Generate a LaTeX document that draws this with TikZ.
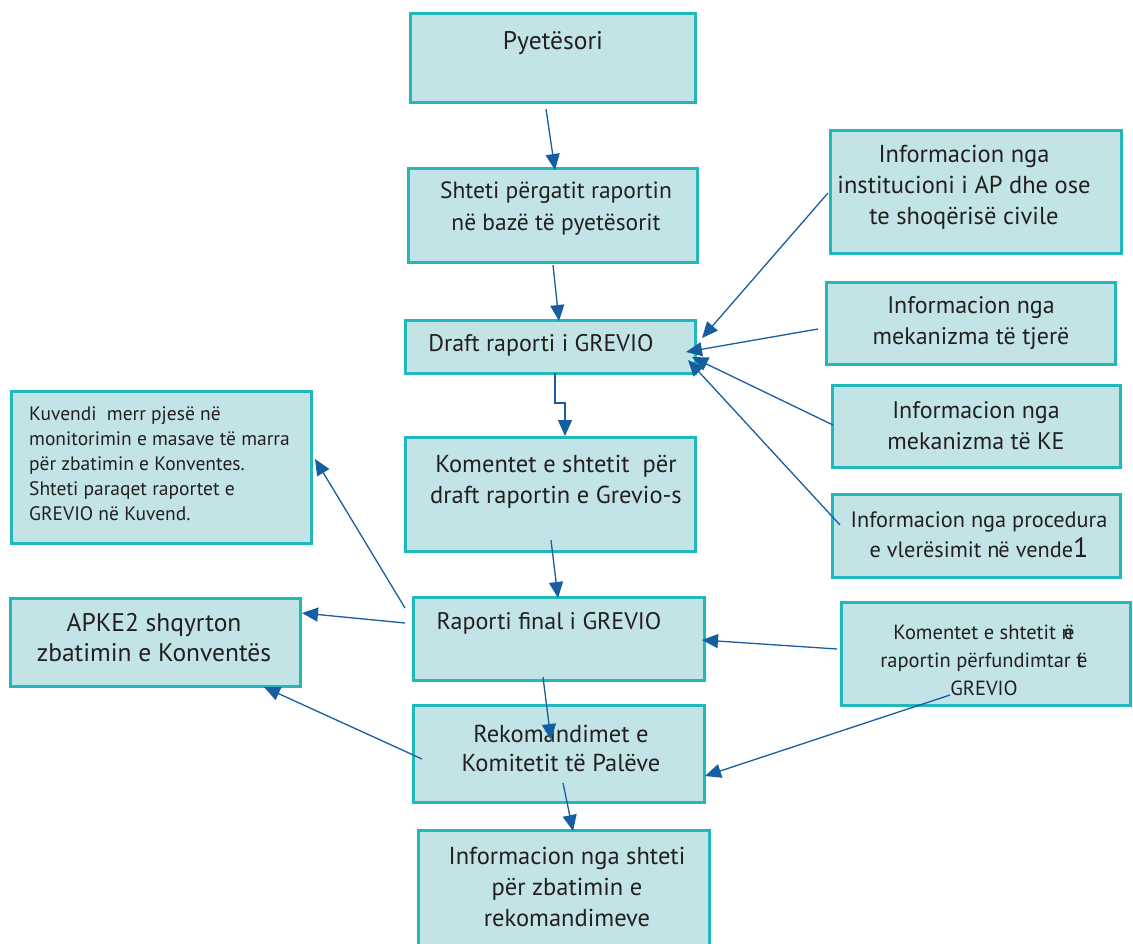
\documentclass[tikz,border=0pt]{standalone}
\usepackage{fontspec}
\setmainfont{PT Sans}
\usetikzlibrary{arrows.meta}
\definecolor{boxfill}{RGB}{195,228,231}
\definecolor{boxline}{RGB}{32,184,186}
\definecolor{arr}{RGB}{22,94,160}
\definecolor{txt}{RGB}{35,31,32}
\tikzset{
  box/.style={draw=boxline, fill=boxfill, line width=3pt, inner sep=0pt, rectangle},
  lbl/.style={text=txt, font=\fontsize{24.5}{31}\selectfont, align=center, inner sep=0pt},
  smalllbl/.style={text=txt, font=\fontsize{19.5}{25}\selectfont, inner sep=0pt},
  conn/.style={draw=arr, line width=1.3pt, -{Triangle[length=16pt,width=14pt]}},
}
\newcommand\mybox[5]{\node[box, minimum width={#4pt-#2pt}, minimum height={#5pt-#3pt}] (#1) at ({(#2+#4)/2},{(#3+#5)/2}) {};}
\begin{document}
\begin{tikzpicture}[x=1pt,y=-1pt]
\useasboundingbox (0,0) rectangle (1133,943);
% boxes
\mybox{pyet}{410}{13}{695}{102}
\mybox{shteti}{408}{168}{697}{262}
\mybox{inst}{830}{130}{1121}{253}
\mybox{draft}{405}{320}{695}{373}
\mybox{tjere}{826}{282}{1115}{364}
\mybox{ke}{832}{385}{1120}{467}
\mybox{proc}{832}{494}{1120}{577}
\mybox{kuv}{11}{391}{311}{543}
\mybox{koment}{405}{437}{695}{551}
\mybox{final}{413}{597}{704}{680}
\mybox{apke}{10}{598}{300}{686}
\mybox{kom2}{841}{602}{1130}{705}
\mybox{rek}{413}{705}{704}{802}
\mybox{infsh}{418}{830}{709}{948}
% texts
\node[lbl, font=\fontsize{25.5}{31}\selectfont] (pyet-t) at (553,43) {Pyetësori};
\node[lbl, font=\fontsize{23.5}{32}\selectfont] (shteti-t) at (556,209) {Shteti përgatit raportin\\në bazë të pyetësorit};
\node[lbl] (inst-t) at (964,187) {Informacion nga\\institucioni i AP dhe ose\\te shoqërisë civile};
\node[lbl, font=\fontsize{24}{31}\selectfont] (draft-t) at (541,345) {Draft raporti i GREVIO};
\node[lbl, font=\fontsize{24}{31}\selectfont] (tjere-t) at (971,323) {Informacion nga\\mekanizma të tjerë};
\node[lbl, font=\fontsize{24}{31}\selectfont] (ke-t) at (976,426) {Informacion nga\\mekanizma të KE};
\node[lbl, font=\fontsize{22.3}{30}\selectfont] (proc-t) at (979,535) {Informacion nga procedura\\e vlerësimit n\kern-0.05em ë vende{\fontsize{28}{30}\selectfont 1}};
\node[smalllbl, align=left, anchor=west] (kuv-t) at (29,464) {Kuvendi\ \ merr pjesë në\\monitorimin e masave të marra\\për zbatimin e Konventes.\\Shteti paraqet raportet e\\GREVIO në Kuvend.};
\node[lbl] (koment-t) at (556,482) {Komentet e shtetit\ \ për\\draft raportin e Grevio-s};
\node[lbl, font=\fontsize{24}{31}\selectfont] (final-t) at (549,623) {Raporti final i GREVIO};
\node[lbl, font=\fontsize{25.5}{30}\selectfont] (apke-t) at (154,638) {APKE2 shqyrton\\zbatimin e Konventës};
\node[smalllbl, align=center, font=\fontsize{20.5}{28}\selectfont] (kom2-t) at (984,660) {Komentet e shtetit n\kern-0.42em ë\\raportin përfundimtar t\kern-0.3em ë\\GREVIO};
\node[lbl, font=\fontsize{24.5}{29}\selectfont] (rek-t) at (561,748) {Rekomandimet e\\Komitetit të Palëve};
\node[lbl] (infsh-t) at (567,887) {Informacion nga shteti\\për zbatimin e\\rekomandimeve};
% connector end points
\coordinate (s1) at (546,109);  \coordinate (e1) at (555,170);
\coordinate (s2) at (553,265);  \coordinate (e2) at (559,321);
\coordinate (s3) at (555,373);  \coordinate (m3a) at (555,403); \coordinate (m3b) at (565,403); \coordinate (e3) at (565,436);
\coordinate (s4) at (551,540);  \coordinate (e4) at (558,598);
\coordinate (s5) at (543,677);  \coordinate (e5) at (551,740);
\coordinate (s6) at (563,783);  \coordinate (e6) at (573,831);
\coordinate (s7) at (405,608);  \coordinate (e7) at (315,459);
\coordinate (s8) at (405,623);  \coordinate (e8) at (302,613);
\coordinate (s9) at (422,759);  \coordinate (e9) at (264,687);
\coordinate (s10) at (828,193); \coordinate (e10) at (702,338);
\coordinate (s11) at (818,329); \coordinate (e11) at (686,352);
\coordinate (s12) at (833,425); \coordinate (e12) at (692,357);
\coordinate (s13) at (840,525); \coordinate (e13) at (688,360);
\coordinate (s14) at (837,649); \coordinate (e14) at (702,640);
\coordinate (s15) at (950,695); \coordinate (e15) at (705,776);
% connectors
\draw[conn] (s1) -- (e1);
\draw[conn] (s2) -- (e2);
\draw[conn] (s3) -- (m3a) -- (m3b) -- (e3);
\draw[conn] (s4) -- (e4);
\draw[conn] (s5) -- (e5);
\draw[conn] (s6) -- (e6);
\draw[conn] (s7) -- (e7);
\draw[conn] (s8) -- (e8);
\draw[conn] (s9) -- (e9);
\draw[conn] (s10) -- (e10);
\draw[conn] (s11) -- (e11);
\draw[conn] (s12) -- (e12);
\draw[conn] (s13) -- (e13);
\draw[conn] (s14) -- (e14);
\draw[conn] (s15) -- (e15);
\end{tikzpicture}
\end{document}
